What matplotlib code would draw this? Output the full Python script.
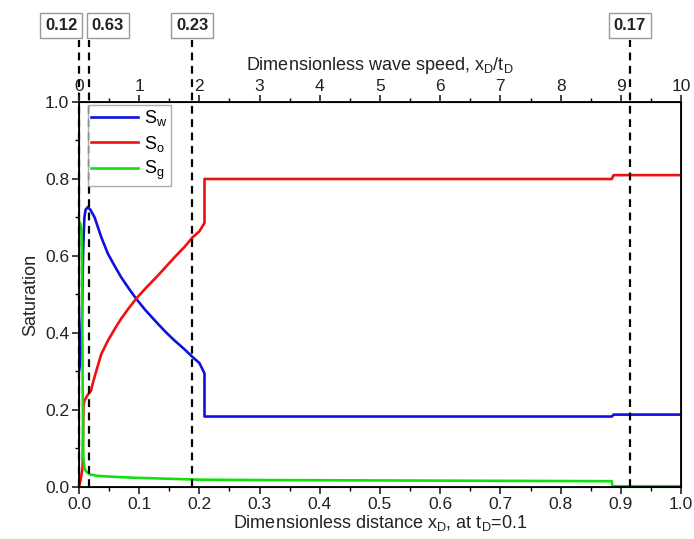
import matplotlib
matplotlib.use("Agg")
import matplotlib.pyplot as plt
from matplotlib.ticker import MultipleLocator, FormatStrFormatter

plt.rcParams['font.family'] = ['Liberation Sans', 'DejaVu Sans']
plt.rcParams['mathtext.fontset'] = 'custom'
plt.rcParams['mathtext.rm'] = 'Liberation Sans'

# Water saturation
sw_x = [0, 0.002, 0.005, 0.007, 0.009, 0.011, 0.0147, 0.019, 0.026, 0.037, 0.048,
        0.06, 0.07, 0.083, 0.095, 0.11, 0.131, 0.145, 0.159, 0.175, 0.189, 0.2,
        0.2085, 0.2085, 0.885, 0.888, 1.0]
sw_y = [0.30, 0.32, 0.45, 0.62, 0.70, 0.72, 0.727, 0.72, 0.70, 0.649, 0.606,
        0.572, 0.545, 0.515, 0.489, 0.46, 0.424, 0.401, 0.380, 0.358, 0.337, 0.322,
        0.295, 0.183, 0.183, 0.188, 0.188]
# Oil saturation
so_x = [0, 0.003, 0.006, 0.0075, 0.009, 0.014, 0.02, 0.023, 0.0285, 0.037, 0.048,
        0.06, 0.07, 0.083, 0.095, 0.11, 0.131, 0.145, 0.159, 0.175, 0.189, 0.2,
        0.2085, 0.2085, 0.885, 0.888, 1.0]
so_y = [0, 0.02, 0.05, 0.21, 0.224, 0.238, 0.25, 0.27, 0.30, 0.345, 0.38,
        0.412, 0.437, 0.465, 0.489, 0.515, 0.549, 0.573, 0.597, 0.623, 0.649, 0.664,
        0.686, 0.80, 0.80, 0.81, 0.81]
# Gas saturation
sg_x = [0, 0.002, 0.004, 0.005, 0.006, 0.007, 0.009, 0.012, 0.0175, 0.03, 0.05,
        0.092, 0.2, 0.3, 0.5, 0.7, 0.885, 0.886, 1.0]
sg_y = [0.69, 0.685, 0.67, 0.6, 0.3, 0.08, 0.05, 0.04, 0.033, 0.029, 0.027,
        0.024, 0.019, 0.018, 0.017, 0.016, 0.015, 0.002, 0.002]

# Vertical markers (x_D) and their labels
mark_x = [0.0, 0.017, 0.188, 0.915]
mark_labels = ['0.12', '0.63', '0.23', '0.17']

fig = plt.figure(figsize=(6.94, 5.39), dpi=100)
ax = fig.add_axes([0.1138, 0.0965, 0.8675, 0.7143])

ax.plot(sw_x, sw_y, color='#1010e0', lw=1.9, label=r'S$_\mathrm{w}$')
ax.plot(so_x, so_y, color='#f01010', lw=1.9, label=r'S$_\mathrm{o}$')
ax.plot(sg_x, sg_y, color='#10e010', lw=1.9, label=r'S$_\mathrm{g}$')

ax.set_xlim(0, 1.0)
ax.set_ylim(0, 1.0)
ax.xaxis.set_major_locator(MultipleLocator(0.1))
ax.xaxis.set_minor_locator(MultipleLocator(0.05))
ax.yaxis.set_major_locator(MultipleLocator(0.2))
ax.yaxis.set_minor_locator(MultipleLocator(0.1))
ax.tick_params(axis='both', which='major', direction='out', length=5, width=1.2,
               labelsize=12.5, pad=2, colors='#222222')
ax.tick_params(axis='both', which='minor', direction='out', length=3, width=1.0)
ax.xaxis.set_major_formatter(FormatStrFormatter('%.1f'))
ax.yaxis.set_major_formatter(FormatStrFormatter('%.1f'))
for s in ax.spines.values():
    s.set_linewidth(1.3)
ax.set_xlabel(r'Dimensionless distance x$_\mathrm{D}$, at t$_\mathrm{D}$=0.1', fontsize=13,
              labelpad=1, color='#222222')
ax.set_ylabel('Saturation', fontsize=13, labelpad=4, color='#222222')

top = ax.twiny()
top.set_xlim(0, 10)
top.xaxis.set_major_locator(MultipleLocator(1))
top.xaxis.set_minor_locator(MultipleLocator(0.5))
top.tick_params(axis='x', which='major', direction='out', length=5, width=1.2,
                labelsize=12.5, pad=1, colors='#222222')
top.tick_params(axis='x', which='minor', direction='out', length=3, width=1.0)
top.set_xlabel(r'Dimensionless wave speed, x$_\mathrm{D}$/t$_\mathrm{D}$', fontsize=13,
               labelpad=6, color='#222222')

for xm in mark_x:
    ax.plot([xm, xm], [0, 1.16], color='black', lw=1.6, ls=(0, (3.5, 2.5)),
            clip_on=False, zorder=5)

bbox = dict(boxstyle='square,pad=0.3', fc='white', ec='#999999', lw=1.0)
ha_list = ['right', 'left', 'center', 'center']
dx = [-0.003, 0.004, 0.0, 0.0]
for xm, lab, ha, d in zip(mark_x, mark_labels, ha_list, dx):
    ax.text(xm + d, 1.198, lab, ha=ha, va='center', fontsize=12, fontweight='bold',
            color='#222222', bbox=bbox, transform=ax.transData, clip_on=False)

leg = ax.legend(loc='upper left', bbox_to_anchor=(0.01, 1.0), fontsize=13,
                handlelength=2.6, frameon=True, fancybox=False, edgecolor='#999999',
                borderpad=0.2, labelspacing=0.3, handletextpad=0.3, borderaxespad=0.15)
leg.get_frame().set_linewidth(1.0)

fig.savefig('out.png', dpi=100)
